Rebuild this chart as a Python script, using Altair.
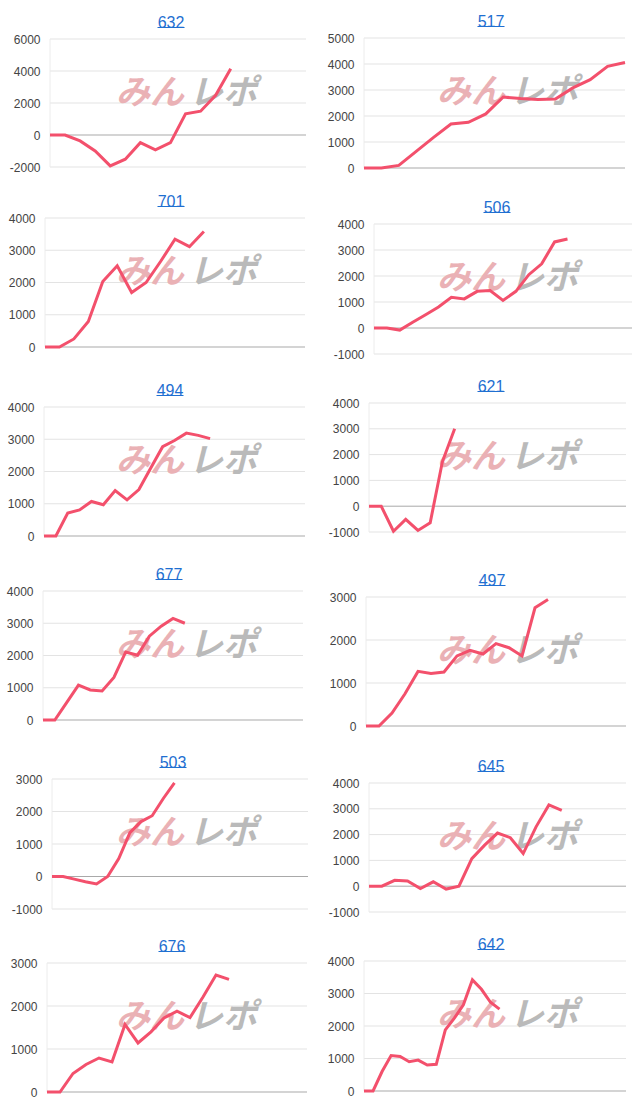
import altair as alt
import pandas as pd

# Machine numbers, one panel each (left column, then right column)
left_titles = ["632", "701", "494", "677", "503", "676"]
right_titles = ["517", "506", "621", "497", "645", "642"]

# Cumulative difference per time slot for each machine
s632 = [0, 0, -370, -1000, -1930, -1510, -480, -930, -480, 1320, 1490, 2480, 4140]
s701 = [0, 0, 250, 790, 2030, 2520, 1690, 2000, 2650, 3340, 3110, 3580]
s494 = [0, 0, 710, 810, 1070, 970, 1410, 1120, 1440, 2110, 2770, 2960, 3190, 3120, 3020]
s677 = [0, 0, 540, 1080, 930, 900, 1320, 2110, 2010, 2600, 2910, 3150, 3000]
s503 = [0, 0, -80, -160, -230, 0, 550, 1350, 1690, 1870, 2400, 2880]
s676 = [0, 0, 430, 640, 790, 700, 1570, 1140, 1400, 1720, 1880, 1730, 2210, 2720, 2620]
s517 = [0, 0, 100, 640, 1180, 1690, 1760, 2080, 2730, 2670, 2630, 2650, 3080, 3400, 3910, 4060]
s506 = [0, 0, -80, 220, 510, 810, 1180, 1120, 1410, 1440, 1060, 1410, 2050, 2470, 3310, 3420]
s621 = [0, 0, -970, -510, -940, -640, 1730, 3000]
s497 = [0, 0, 300, 750, 1270, 1220, 1255, 1630, 1760, 1675, 1915, 1820, 1630, 2750, 2940]
s645 = [0, 0, 230, 200, -90, 170, -110, 0, 1070, 1590, 2060, 1880, 1265, 2300, 3150, 2940]
s642 = [0, 0, 600, 1090, 1060, 900, 950, 800, 820, 1880, 2240, 2650, 3420, 3130, 2730, 2520]

left_series = [s632, s701, s494, s677, s503, s676]
right_series = [s517, s506, s621, s497, s645, s642]

# Number of time slots on each panel's x axis
left_slots = [18, 19, 23, 23, 24, 21]
right_slots = [16, 21, 22, 21, 21, 30]

# Y-axis tick labels per panel
left_ticks = [
    [-2000, 0, 2000, 4000, 6000],
    [0, 1000, 2000, 3000, 4000],
    [0, 1000, 2000, 3000, 4000],
    [0, 1000, 2000, 3000, 4000],
    [-1000, 0, 1000, 2000, 3000],
    [0, 1000, 2000, 3000],
]
right_ticks = [
    [0, 1000, 2000, 3000, 4000, 5000],
    [-1000, 0, 1000, 2000, 3000, 4000],
    [-1000, 0, 1000, 2000, 3000, 4000],
    [0, 1000, 2000, 3000],
    [-1000, 0, 1000, 2000, 3000, 4000],
    [0, 1000, 2000, 3000, 4000],
]

# ---- page layout (pixels) ----
LEFT_GEOM = dict(
    wm=186, frame=43,
    left=[50, 45, 44, 43, 52, 47],
    right=[306, 305, 305, 303, 308, 307],
    top=[39, 218, 407, 591, 779, 963],
    bottom=[167, 347, 536, 720, 909, 1092],
    title_x=[171, 171, 170, 169, 173, 172],
)
RIGHT_GEOM = dict(
    wm=506, frame=363,
    left=[363, 373, 368, 365, 368, 363],
    right=[624, 631, 625, 625, 625, 625],
    top=[38, 224, 403, 597, 783, 961],
    bottom=[168, 354, 532, 726, 912, 1091],
    title_x=[490, 496, 490, 491, 490, 490],
)
HEAD = 25           # row top edge to its highest gridline
AXIS_EXT = 40       # label space reserved left of each frame

LINE_COLOR = "#f3506c"
LINK_BLUE = "#1f6fd1"
FONT = "Liberation Sans"
CJK = "Noto Sans CJK JP"


def panel(title, values, n_slots, ticks, g, i, d, height):
    frame = g["frame"]
    left, right = g["left"][i], g["right"][i]
    grid_h = g["bottom"][i] - g["top"][i]
    width = right - frame                # plot frame shared by the column
    inset = left - frame                 # where this panel's grid starts
    tx = g["title_x"][i] - frame
    wx = g["wm"] - frame

    df = pd.DataFrame({"slot": list(range(len(values))), "value": values})
    grid_df = pd.DataFrame({"value": ticks})
    xs = alt.Scale(domain=[0, n_slots - 1], range=[inset, width],
                   nice=False, zero=False)
    ys = alt.Scale(domain=[ticks[0], ticks[-1]], range=[grid_h + d, d],
                   nice=False, zero=False)

    y_axis = alt.Axis(
        values=ticks, title=None, ticks=False, tickSize=0, domain=False,
        grid=False, labelPadding=10, offset=-inset,
        minExtent=AXIS_EXT + inset, maxExtent=AXIS_EXT + inset,
        labelExpr="'' + datum.value",
        labelColor="#444444", labelFont=FONT, labelFontSize=12,
    )
    x_start = alt.X(datum=0, type="quantitative", scale=xs, axis=None)

    # horizontal gridlines, the zero baseline darker
    grid = alt.Chart(grid_df).mark_rule(strokeWidth=1).encode(
        x=x_start,
        x2=alt.X2(datum=n_slots - 1),
        y=alt.Y("value:Q", scale=ys, axis=y_axis),
        color=alt.condition("datum.value === 0", alt.value("#a9a9a9"),
                            alt.value("#e3e3e3")),
    )
    one = pd.DataFrame({"k": [0]})
    edge = alt.Chart(one).mark_rule(color="#ececec", strokeWidth=1).encode(
        x=x_start,
        y=alt.Y(datum=ticks[0], type="quantitative", scale=ys, axis=y_axis),
        y2=alt.Y2(datum=ticks[-1]),
    )
    wm_a = alt.Chart(one).mark_text(
        text="みん", font=CJK, fontSize=34, fontWeight="bold", fontStyle="italic",
        color="#eab1b5", align="right", baseline="middle",
    ).encode(x=alt.value(wx - 2), y=alt.value(55 + d))
    wm_b = alt.Chart(one).mark_text(
        text="レポ", font=CJK, fontSize=34, fontWeight="bold", fontStyle="italic",
        color="#bababa", align="left", baseline="middle",
    ).encode(x=alt.value(wx + 3), y=alt.value(55 + d))
    underline = alt.Chart(one).mark_rule(color=LINK_BLUE, strokeWidth=1).encode(
        x=alt.value(tx - 13.5), x2=alt.value(tx + 13.5), y=alt.value(d - 11.5)
    )
    line = alt.Chart(df).mark_line(color=LINE_COLOR, strokeWidth=3).encode(
        x=alt.X("slot:Q", scale=xs, axis=None),
        y=alt.Y("value:Q", scale=ys, axis=y_axis),
    )

    return alt.layer(grid, edge, wm_a, wm_b, underline, line).properties(
        width=width,
        height=height,
        title=alt.TitleParams(
            text=title, font=FONT, fontSize=16, fontWeight="normal", color=LINK_BLUE,
            anchor="middle", frame="group", dx=tx - width / 2, offset=-3.5,
        ),
    )


rows = []
n_rows = len(left_titles)
for i in range(n_rows):
    tl, tr = LEFT_GEOM["top"][i], RIGHT_GEOM["top"][i]
    t = min(tl, tr)
    dl, dr = tl - t, tr - t
    gl = LEFT_GEOM["bottom"][i] - tl
    gr = RIGHT_GEOM["bottom"][i] - tr
    if i + 1 < n_rows:
        t_next = min(LEFT_GEOM["top"][i + 1], RIGHT_GEOM["top"][i + 1])
        h = t_next - t - HEAD
    else:
        h = max(dl + gl, dr + gr) + 10
    lp = panel(left_titles[i], left_series[i], left_slots[i], left_ticks[i],
               LEFT_GEOM, i, dl, h)
    rp = panel(right_titles[i], right_series[i], right_slots[i], right_ticks[i],
               RIGHT_GEOM, i, dr, h)
    gap = RIGHT_GEOM["frame"] - AXIS_EXT - LEFT_GEOM["right"][i]
    rows.append(alt.hconcat(lp, rp, spacing=gap))

first_top = min(LEFT_GEOM["top"][0], RIGHT_GEOM["top"][0])
chart = alt.vconcat(*rows, spacing=0).properties(
    padding={"left": LEFT_GEOM["frame"] - AXIS_EXT, "top": first_top - HEAD,
             "right": 0, "bottom": 0},
    background="white",
).configure_view(stroke=None)

chart.save("out.html", embed_options={"renderer": "svg", "actions": False})
